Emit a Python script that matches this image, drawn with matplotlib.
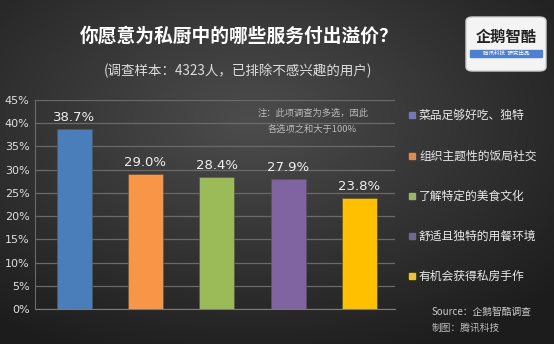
#!/usr/bin/env python3
"""私厨溢价调查 bar chart"""

import numpy as np
import matplotlib.pyplot as plt
from matplotlib.patches import FancyBboxPatch, Rectangle

plt.rcParams['font.family'] = ['Noto Sans CJK SC', 'DejaVu Sans']

categories = ['菜品足够好吃、独特', '组织主题性的饭局社交', '了解特定的美食文化',
              '舒适且独特的用餐环境', '有机会获得私房手作']
values = [38.7, 29.0, 28.4, 27.9, 23.8]
bar_colors = ['#4a7ebb', '#f79646', '#9bbb59', '#8064a2', '#ffc000']
legend_colors = ['#7676b4', '#d98c58', '#9ab46e', '#6e6a8c', '#e6c43c']
yticks = [0, 5, 10, 15, 20, 25, 30, 35, 40, 45]


def main():
    fig = plt.figure(figsize=(5.54, 3.44), dpi=100)

    # dark radial background, lighter towards the middle
    bg = fig.add_axes([0, 0, 1, 1], zorder=-10)
    yy, xx = np.mgrid[0:1:344j, 0:1:554j]
    r = np.sqrt(((xx - 0.45) / 0.75) ** 2 + ((yy - 0.35) / 0.75) ** 2)
    shade = np.clip(0.30 - 0.19 * r, 0.11, 0.30)
    bg.imshow(np.dstack([shade] * 3), extent=[0, 1, 0, 1], aspect='auto')
    bg.axis('off')

    ax = fig.add_axes([35 / 554, 1 - 309 / 344, 360 / 554, 209 / 344])
    ax.patch.set_alpha(0)
    x = np.arange(len(values))
    ax.bar(x, values, width=0.49, color=bar_colors, zorder=3,
           edgecolor='#555555', linewidth=0.5)
    for xi, v in zip(x, values):
        ax.text(xi, v + 1.2, f'{v:.1f}%', ha='center', va='bottom',
                color='#f0f0f0', fontsize=9.5, family='DejaVu Sans')

    ax.set_xlim(-0.55, 4.5)
    ax.set_ylim(0, 45)
    ax.set_yticks(yticks)
    ax.set_yticklabels([f'{t}%' for t in yticks], color='#e0e0e0',
                       fontsize=8, family='DejaVu Sans')
    ax.set_xticks([])
    ax.tick_params(axis='y', length=0, pad=4)
    ax.grid(axis='y', color='#6a6a6a', linewidth=0.9, zorder=0)
    for side in ['top', 'right']:
        ax.spines[side].set_visible(False)
    ax.spines['left'].set_color('#6a6a6a')
    ax.spines['bottom'].set_color('#7a7a7a')

    # titles
    fig.text(239 / 554, 1 - 36 / 344, '你愿意为私厨中的哪些服务付出溢价？',
             ha='center', va='center', color='white', fontsize=13.5,
             fontweight='bold')
    fig.text(238 / 554, 1 - 71 / 344, '(调查样本：4323人，已排除不感兴趣的用户)',
             ha='center', va='center', color='#dddddd', fontsize=9.7)

    # note on multiple choice
    fig.text(258 / 554, 1 - 113 / 344, '注：此项调查为多选，因此',
             ha='left', va='center', color='#bbbbbb', fontsize=6.7,
             style='italic')
    fig.text(268 / 554, 1 - 129 / 344, '各选项之和大于100%',
             ha='left', va='center', color='#bbbbbb', fontsize=6.7,
             style='italic')

    # legend
    leg_y = [115, 156, 196, 236, 276]
    for name, c, y in zip(categories, legend_colors, leg_y):
        fig.patches.append(Rectangle((409 / 554, 1 - (y + 3) / 344),
                                     6 / 554, 6 / 344, color=c,
                                     transform=fig.transFigure))
        fig.text(419 / 554, 1 - y / 344, name, ha='left', va='center',
                 color='#e8e8e8', fontsize=8.5)

    # source
    fig.text(432 / 554, 1 - 312 / 344, 'Source：企鹅智酷调查', ha='left',
             va='center', color='#cccccc', fontsize=7, style='italic')
    fig.text(432 / 554, 1 - 328 / 344, '制图：腾讯科技', ha='left',
             va='center', color='#bbbbbb', fontsize=7, style='italic')

    # logo badge
    fig.patches.append(FancyBboxPatch((466 / 554, 1 - 71 / 344), 80 / 554,
                                      54 / 344,
                                      boxstyle='round,pad=0,rounding_size=0.012',
                                      facecolor='#f4f4f4', edgecolor='#cfcfcf',
                                      transform=fig.transFigure))
    fig.text(506 / 554, 1 - 37 / 344, '企鹅智酷', ha='center', va='center',
             color='#222222', fontsize=11, fontweight='bold')
    fig.patches.append(Rectangle((470 / 554, 1 - 57 / 344), 72 / 554,
                                 7 / 344, color='#4f7fd0',
                                 transform=fig.transFigure))
    fig.text(506 / 554, 1 - 53.5 / 344, '腾讯科技  研究出品', ha='center',
             va='center', color='white', fontsize=4)

    plt.savefig('out.png', dpi=100, facecolor='#2a2a2a')


if __name__ == '__main__':
    main()
